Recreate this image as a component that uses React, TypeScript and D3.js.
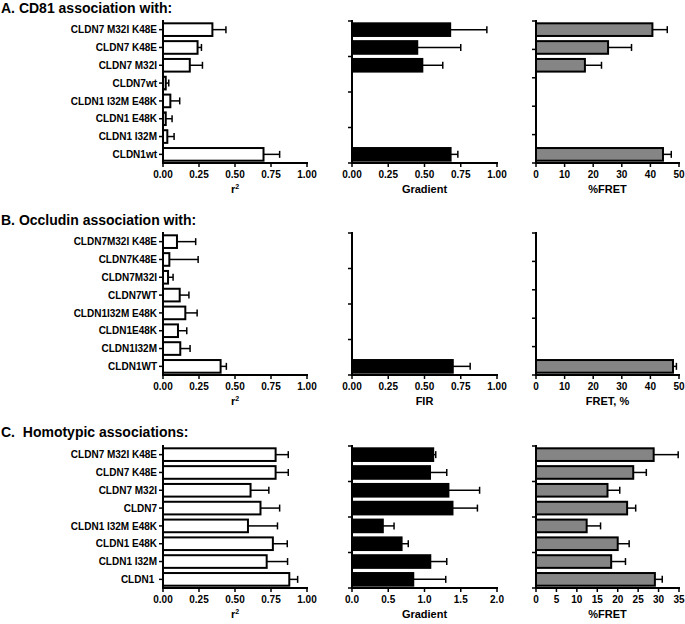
import React from "react";
import * as d3 from "d3";

// ---------- DATA ----------
const categoriesA = ["CLDN7 M32I K48E", "CLDN7 K48E", "CLDN7 M32I", "CLDN7wt", "CLDN1 I32M E48K", "CLDN1 E48K", "CLDN1 I32M", "CLDN1wt"];
const r2A = [0.343, 0.24, 0.186, 0.019, 0.051, 0.019, 0.03, 0.698];
const r2ErrA = [0.094, 0.027, 0.088, 0.021, 0.065, 0.044, 0.047, 0.112];
const gradientA = [0.677, 0.45, 0.485, null, null, null, null, 0.68];
const gradientErrA = [0.253, 0.3, 0.141, null, null, null, null, 0.05];
const fretA = [40.7, 25.2, 17.1, null, null, null, null, 44.4];
const fretErrA = [5.2, 8.2, 5.8, null, null, null, null, 2.9];

const categoriesB = ["CLDN7M32I K48E", "CLDN7K48E", "CLDN7M32I", "CLDN7WT", "CLDN1I32M E48K", "CLDN1E48K", "CLDN1I32M", "CLDN1WT"];
const r2B = [0.097, 0.044, 0.035, 0.116, 0.155, 0.104, 0.12, 0.4];
const r2ErrB = [0.13, 0.2, 0.035, 0.064, 0.082, 0.061, 0.068, 0.04];
const firB = [null, null, null, null, null, null, null, 0.695];
const firErrB = [null, null, null, null, null, null, null, 0.12];
const fretB = [null, null, null, null, null, null, null, 47.9];
const fretErrB = [null, null, null, null, null, null, null, 1.2];

const categoriesC = ["CLDN7 M32I K48E", "CLDN7 K48E", "CLDN7 M32I", "CLDN7", "CLDN1 I32M E48K", "CLDN1 E48K", "CLDN1 I32M", "CLDN1 "];
const r2C = [0.782, 0.782, 0.608, 0.677, 0.59, 0.763, 0.72, 0.877];
const r2ErrC = [0.088, 0.088, 0.127, 0.133, 0.205, 0.1, 0.145, 0.058];
const gradientC = [1.12, 1.076, 1.33, 1.386, 0.425, 0.684, 1.08, 0.845];
const gradientErrC = [0.035, 0.231, 0.43, 0.344, 0.155, 0.092, 0.227, 0.448];
const fretC = [28.8, 23.8, 17.5, 22.3, 12.4, 20.0, 18.4, 29.1];
const fretErrC = [6.0, 3.2, 3.0, 2.1, 3.4, 2.8, 3.5, 1.8];

const ticksUnit = [0, 0.25, 0.5, 0.75, 1.0];
const ticksGradientC = [0, 0.5, 1.0, 1.5, 2.0];
const ticksFret50 = [0, 10, 20, 30, 40, 50];
const ticksFret35 = [0, 5, 10, 15, 20, 25, 30, 35];

const panelTitles = ["A. CD81 association with:", "B. Occludin association with:", "C.  Homotypic associations:"];

// ---------- COMPONENTS ----------
const FONT = "Arial, 'Liberation Sans', Helvetica, sans-serif";

type PanelProps = {
  x0: number; x1: number; yTop: number; yBottom: number;
  categories: string[];
  showLabels: boolean;
  values: (number | null)[];
  errs: (number | null)[];
  ticks: number[];
  fmt: string;
  fill: string;
  axisTitle: React.ReactNode;
  titleY: number;
  yIntervals: number;
};

function BarPanel(p: PanelProps) {
  const x = d3.scaleLinear().domain([p.ticks[0], p.ticks[p.ticks.length - 1]]).range([p.x0, p.x1]);
  const y = d3.scaleBand<string>().domain(p.categories).range([p.yTop, p.yBottom]).paddingInner(0.29).paddingOuter(0.13);
  const f = d3.format(p.fmt);
  const bw = y.bandwidth();
  const yTicks = p.showLabels
    ? p.categories.map((c) => (y(c) as number) + bw / 2)
    : d3.range(p.yIntervals + 1).map((i) => p.yTop + (i * (p.yBottom - p.yTop)) / p.yIntervals);
  return (
    <g>
      {p.categories.map((c, i) => {
        const v = p.values[i];
        if (v == null) return null;
        const e = p.errs[i] ?? 0;
        const yy = y(c) as number;
        const cy = yy + bw / 2;
        return (
          <g key={i}>
            <line x1={x(v)} x2={x(v + e)} y1={cy} y2={cy} stroke="#000" strokeWidth={1.5} />
            <line x1={x(v + e)} x2={x(v + e)} y1={cy - 3.5} y2={cy + 3.5} stroke="#000" strokeWidth={1.5} />
            <rect x={x(0)} y={yy} width={Math.max(0, x(v) - x(0))} height={bw} fill={p.fill} stroke="#000" strokeWidth={2} />
          </g>
        );
      })}
      {/* y axis */}
      <line x1={p.x0} x2={p.x0} y1={p.yTop - 1} y2={p.yBottom} stroke="#000" strokeWidth={2} />
      {yTicks.map((t, i) => (
        <line key={i} x1={p.x0 - 4} x2={p.x0} y1={t} y2={t} stroke="#000" strokeWidth={1.5} />
      ))}
      {p.showLabels &&
        p.categories.map((c, i) => (
          <text key={i} x={p.x0 - 6} y={(y(c) as number) + bw / 2 + 3.6} textAnchor="end" fontSize={10} fontWeight="bold" fontFamily={FONT} style={{ whiteSpace: "pre" }}>
            {c}
          </text>
        ))}
      {/* x axis */}
      <line x1={p.x0 - 1} x2={p.x1 + 1} y1={p.yBottom} y2={p.yBottom} stroke="#000" strokeWidth={2} />
      {p.ticks.map((t, i) => (
        <g key={i}>
          <line x1={x(t)} x2={x(t)} y1={p.yBottom} y2={p.yBottom + 4} stroke="#000" strokeWidth={1.5} />
          <text x={x(t)} y={p.yBottom + 15} textAnchor="middle" fontSize={10} fontWeight="bold" fontFamily={FONT}>
            {f(t)}
          </text>
        </g>
      ))}
      <text x={(p.x0 + p.x1) / 2} y={p.titleY} textAnchor="middle" fontSize={11} fontWeight="bold" fontFamily={FONT}>
        {p.axisTitle}
      </text>
    </g>
  );
}

const R2 = (
  <>
    r<tspan fontSize={7} dy={-4}>2</tspan>
  </>
);

const cols = [
  { x0: 163, x1: 307 },
  { x0: 352, x1: 497 },
  { x0: 536, x1: 679 },
];

const rows = [
  { yTop: 21, yBottom: 163, titleBase: 13, cats: categoriesA,
    data: [
      { v: r2A, e: r2ErrA, ticks: ticksUnit, fmt: ".2f", fill: "#fff", t: R2, n: 0 },
      { v: gradientA, e: gradientErrA, ticks: ticksUnit, fmt: ".2f", fill: "#000", t: "Gradient", n: 4 },
      { v: fretA, e: fretErrA, ticks: ticksFret50, fmt: "d", fill: "#858585", t: "%FRET", n: 5 },
    ] },
  { yTop: 233, yBottom: 375, titleBase: 225, cats: categoriesB,
    data: [
      { v: r2B, e: r2ErrB, ticks: ticksUnit, fmt: ".2f", fill: "#fff", t: R2, n: 0 },
      { v: firB, e: firErrB, ticks: ticksUnit, fmt: ".2f", fill: "#000", t: "FIR", n: 4 },
      { v: fretB, e: fretErrB, ticks: ticksFret50, fmt: "d", fill: "#858585", t: "FRET, %", n: 5 },
    ] },
  { yTop: 446, yBottom: 588, titleBase: 437, cats: categoriesC,
    data: [
      { v: r2C, e: r2ErrC, ticks: ticksUnit, fmt: ".2f", fill: "#fff", t: R2, n: 0 },
      { v: gradientC, e: gradientErrC, ticks: ticksGradientC, fmt: ".1f", fill: "#000", t: "Gradient", n: 4 },
      { v: fretC, e: fretErrC, ticks: ticksFret35, fmt: "d", fill: "#858585", t: "%FRET", n: 4 },
    ] },
];

export default function App() {
  return (
    <svg width={685} height={624} style={{ position: "absolute", left: 0, top: 0, background: "#fff" }}>
      {rows.map((r, ri) => (
        <g key={ri}>
          <text x={1} y={r.titleBase} fontSize={14} fontWeight="bold" fontFamily={FONT} style={{ whiteSpace: "pre" }}>
            {panelTitles[ri]}
          </text>
          {r.data.map((d, ci) => (
            <BarPanel
              key={ci}
              x0={cols[ci].x0}
              x1={cols[ci].x1}
              yTop={r.yTop}
              yBottom={r.yBottom}
              categories={r.cats}
              showLabels={ci === 0}
              values={d.v}
              errs={d.e}
              ticks={d.ticks}
              fmt={d.fmt}
              fill={d.fill}
              axisTitle={d.t}
              titleY={r.yBottom + 30}
              yIntervals={d.n}
            />
          ))}
        </g>
      ))}
    </svg>
  );
}
